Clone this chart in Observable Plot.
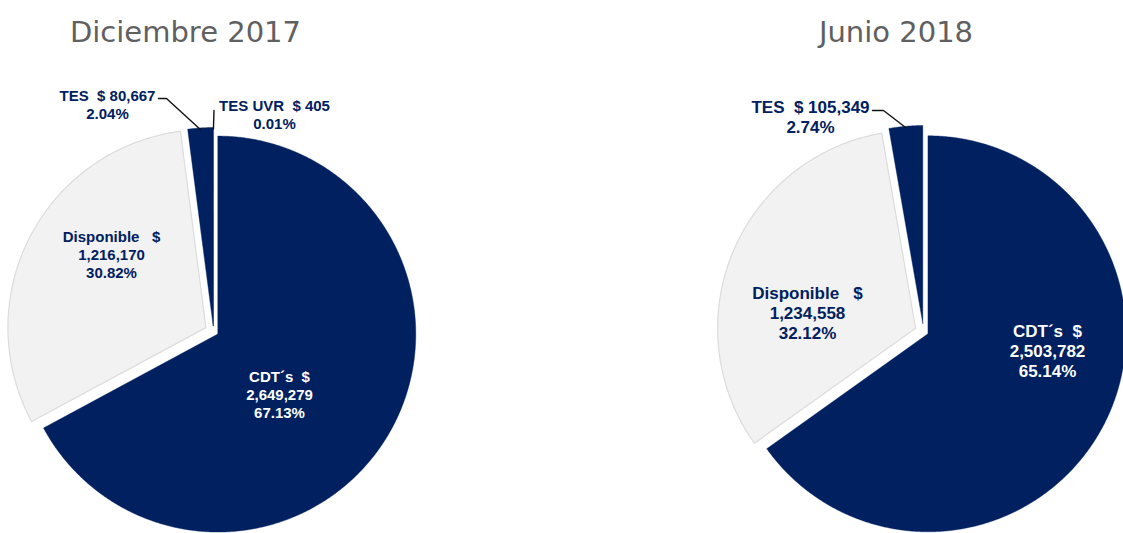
<!DOCTYPE html>
<html><head><meta charset="utf-8">
<script src="https://cdn.jsdelivr.net/npm/d3@7"></script>
<script src="https://cdn.jsdelivr.net/npm/@observablehq/plot@0.6"></script>
<style>html,body{margin:0;padding:0;background:#fff;overflow:hidden}</style>
</head><body><div id="chart"></div>
<script>
// ---- DATA ----
const categorias = ["CDT´s", "Disponible", "TES", "TES UVR"];
const periodos = ["Diciembre 2017", "Junio 2018"];
const valoresDic2017 = [2649279, 1216170, 80667, 405];
const porcentajesDic2017 = ["67.13%", "30.82%", "2.04%", "0.01%"];
const valoresJun2018 = [2503782, 1234558, 105349, 0];
const porcentajesJun2018 = ["65.14%", "32.12%", "2.74%", ""];

// ---- LAYOUT (pixels) ----
const W = 1123, H = 533, R = 198;
const centros = [[213, 331], [923, 331]];
const explosion = [[5, 8.5, 6, 6], [5, 8.5, 8, 8]];
const posTitulos = [[185, 41], [895.5, 41]];
const posEtiquetas = [
  [[279, 417], [111, 277], [107, 118], [274, 128]],
  [[1047, 376], [807, 338], [810, 132], null]
];
const guias = [
  [null, null, [[158, 98], [166, 98]], [[213.5, 110]]],
  [null, null, [[872, 110], [883, 110]], null]
];
const tamFuente = [15, 17];
const azul = "#002060", gris = "#f2f2f2", borde = "#dcdcdc";

const px = x => (x - centros[0][0]) / R;
const py = y => (centros[0][1] - y) / R;

const series = [
  {valores: valoresDic2017, pct: porcentajesDic2017},
  {valores: valoresJun2018, pct: porcentajesJun2018}
];
const fmt = d3.format(",");

const puntos = [], etiquetas = [], lineas = [];
series.forEach((s, pi) => {
  const arcs = d3.pie().sort(null).value(d => d)(s.valores);
  const cx = px(centros[pi][0]), cy = py(centros[pi][1]);
  arcs.forEach((a, i) => {
    const mid = (a.startAngle + a.endAngle) / 2;
    const o = explosion[pi][i] / R;
    const ox = cx + o * Math.sin(mid), oy = cy + o * Math.cos(mid);
    if (a.value > 0) {
      const id = pi + "-" + i;
      const n = Math.max(2, Math.ceil((a.endAngle - a.startAngle) / 0.005));
      puntos.push({id, cat: i, x: ox, y: oy});
      for (let k = 0; k <= n; k++) {
        const t = a.startAngle + (a.endAngle - a.startAngle) * k / n;
        puntos.push({id, cat: i, x: ox + Math.sin(t), y: oy + Math.cos(t)});
      }
      puntos.push({id, cat: i, x: ox, y: oy});
    }
    const pos = posEtiquetas[pi][i];
    if (pos && s.pct[i]) {
      let txt;
      if (i === 0) txt = categorias[i] + "\u00a0\u00a0$\n" + fmt(s.valores[i]) + "\n" + s.pct[i];
      else if (i === 1) txt = categorias[i] + "\u00a0\u00a0\u00a0$\n" + fmt(s.valores[i]) + "\n" + s.pct[i];
      else txt = categorias[i] + "\u00a0\u00a0$\u00a0" + fmt(s.valores[i]) + "\n" + s.pct[i];
      etiquetas.push({pi, cat: i, x: px(pos[0]), y: py(pos[1]), txt, blanco: i === 0});
    }
    const g = guias[pi][i];
    if (g) {
      const id = "g" + pi + "-" + i;
      g.forEach(p => lineas.push({id, x: px(p[0]), y: py(p[1])}));
      const r = o + 1 - 1.5 / R;
      lineas.push({id, x: cx + r * Math.sin(mid), y: cy + r * Math.cos(mid)});
    }
  });
});

const titulos = periodos.map((p, i) => ({t: p, x: px(posTitulos[i][0]), y: py(posTitulos[i][1])}));

const textoMark = (pi) => Plot.text(etiquetas.filter(d => d.pi === pi), {
  x: "x", y: "y", text: "txt", lineAnchor: "bottom", textAnchor: "middle",
  fontSize: tamFuente[pi], fontWeight: "bold", lineHeight: 1.17,
  fontFamily: "'Liberation Sans', Arial, sans-serif",
  fill: d => d.blanco ? "#ffffff" : azul
});

const chart = Plot.plot({
  width: W, height: H,
  margin: 0,
  x: {domain: [px(0), px(W)], axis: null},
  y: {domain: [py(H), py(0)], axis: null},
  color: {type: "identity"},
  style: {background: "#fff", overflow: "visible"},
  marks: [
    Plot.line(puntos.filter(d => d.cat === 1), {x: "x", y: "y", z: "id", fill: gris, stroke: borde, strokeWidth: 1.2, curve: "linear"}),
    Plot.line(puntos.filter(d => d.cat !== 1), {x: "x", y: "y", z: "id", fill: azul, stroke: azul, strokeWidth: 0.4, curve: "linear"}),
    Plot.line(lineas, {x: "x", y: "y", z: "id", stroke: "#111", strokeWidth: 1.4}),
    textoMark(0),
    textoMark(1),
    Plot.text(titulos, {x: "x", y: "y", text: "t", lineAnchor: "bottom", textAnchor: "middle",
      fontSize: 29, fill: "#606060", fontFamily: "'DejaVu Sans', Verdana, sans-serif"})
  ]
});
document.getElementById("chart").appendChild(chart);
</script>
</body></html>
